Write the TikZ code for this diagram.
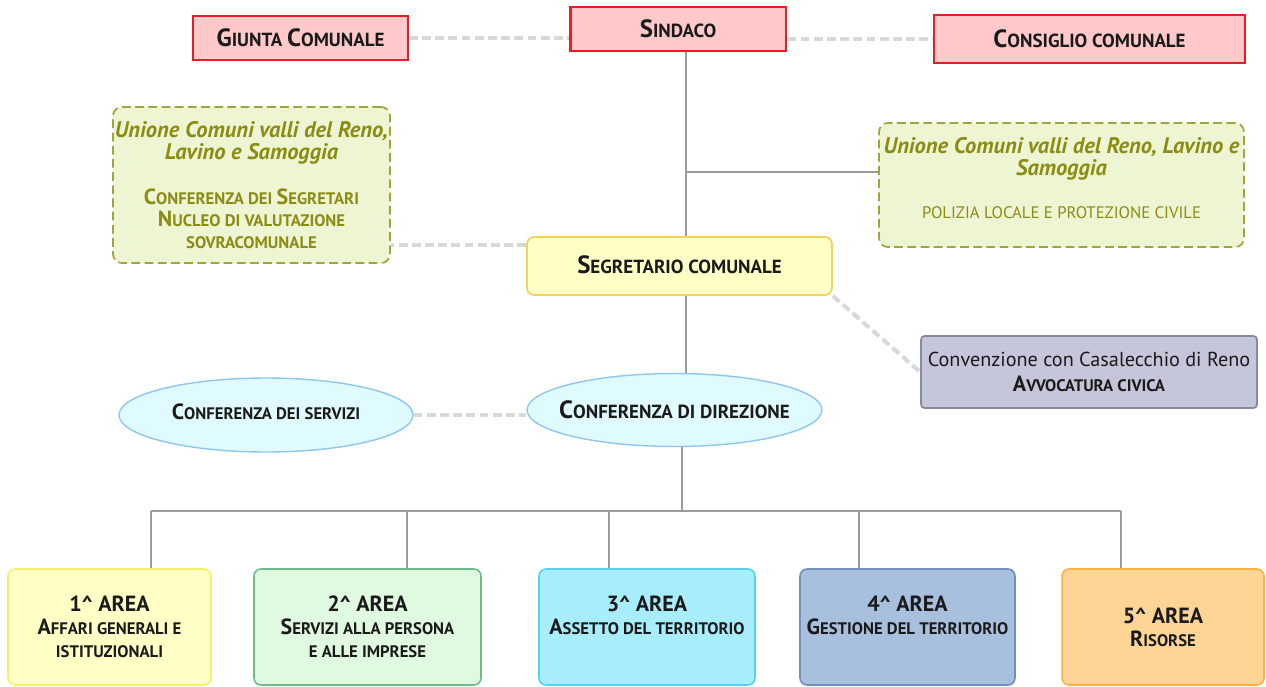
\documentclass[tikz,border=0pt]{standalone}
\usepackage{fontspec}
\setmainfont{PT Sans}
\usepackage{tikz}
\usetikzlibrary{
	calc,
	positioning,
	shapes.geometric,
}
\definecolor{testo}{HTML}{1A1A1A}
\definecolor{rosso}{HTML}{ED1C24}
\definecolor{rosa}{HTML}{FFC9C9}
\definecolor{oliva}{HTML}{8C8C14}
\definecolor{olivabordo}{HTML}{A3A33C}
\definecolor{verdino}{HTML}{EEF5D3}
\definecolor{giallino}{HTML}{FFFFC6}
\definecolor{giallob}{HTML}{F5F06A}
\definecolor{oro}{HTML}{F5D35A}
\definecolor{celestino}{HTML}{E0FBFF}
\definecolor{celestebordo}{HTML}{8EC6F2}
\definecolor{lilla}{HTML}{C6C6DA}
\definecolor{lillabordo}{HTML}{8787A8}
\definecolor{verde}{HTML}{E0FAE0}
\definecolor{verdeb}{HTML}{6DBB8A}
\definecolor{ciano}{HTML}{A8EDFC}
\definecolor{cianob}{HTML}{58D0F0}
\definecolor{blu}{HTML}{A8BFDD}
\definecolor{blub}{HTML}{6F8FBF}
\definecolor{arancio}{HTML}{FFD596}
\definecolor{aranciob}{HTML}{FFB040}
\definecolor{grigio}{HTML}{9A9A9A}
\definecolor{grigino}{HTML}{D8D8D8}
\newcommand\Iniz[1]{{\fontsize{12.5}{14}\selectfont #1}}
\newcommand\IniG[1]{{\fontsize{14.2}{16}\selectfont #1}}
\newcommand\Corsivo{\itshape\fontsize{12.8}{14.5}\selectfont}
\tikzset{organo/.style={draw=rosso,fill=rosa,line width=1.1pt,minimum height=0.88cm,text=testo,font=\fontsize{10.8}{13}\selectfont\bfseries,}}
\tikzset{unione/.style={draw=olivabordo,fill=verdino,dashed,dash pattern=on 5pt off 2.5pt,line width=1pt,rounded corners=5pt,text=oliva,align=center,inner sep=0pt,font=\fontsize{9.5}{12.5}\selectfont\bfseries,}}
\tikzset{ellisse/.style={ellipse,draw=celestebordo,fill=celestino,line width=0.8pt,inner sep=0pt,text=testo,font=\fontsize{9.5}{12}\selectfont\bfseries,}}
\tikzset{area/.style={rounded corners=4pt,line width=0.9pt,minimum height=2.32cm,text=testo,align=center,font=\fontsize{9.5}{13}\selectfont\bfseries,}}
\tikzset{link/.style={draw=grigio,line width=1.5pt,}}
\tikzset{tratt/.style={draw=grigino,line width=2.3pt,dash pattern=on 5pt off 2.5pt,}}

\begin{document}
\begin{tikzpicture}[x=0.02cm,y=-0.02cm]
\useasboundingbox (0,0) rectangle (1266,686);

% vertici
\node[organo,line width=1.7pt,minimum width=4.32cm](sindaco) at(678,29) {\IniG{S}INDACO};
\node[organo,minimum width=4.3cm](giunta) at(300.5,38) {\IniG{G}IUNTA \IniG{C}OMUNALE};
\node[organo,minimum width=6.22cm,minimum height=0.96cm](consiglio) at(1089.5,39) {\IniG{C}ONSIGLIO COMUNALE};

% unione
\node[unione,minimum width=5.54cm,minimum height=3.12cm](unioneL) at(251.5,185) {\Corsivo Unione Comuni valli del Reno,\\ \Corsivo Lavino e Samoggia\\[13pt] \Iniz{C}ONFERENZA DEI \Iniz{S}EGRETARI\\ \Iniz{N}UCLEO DI VALUTAZIONE\\ SOVRACOMUNALE};
\node[unione,minimum width=7.3cm,minimum height=2.48cm](unioneR) at(1061.5,185) {\Corsivo Unione Comuni valli del Reno, Lavino e\\ \Corsivo Samoggia\\[12pt] \mdseries POLIZIA LOCALE E PROTEZIONE CIVILE\\[-4pt] \mbox{}};

% segreteria
\node[draw=oro,fill=giallino,line width=1pt,rounded corners=4pt,minimum width=6.1cm,minimum height=1.16cm,text=testo,font=\fontsize{10.8}{13}\selectfont\bfseries](segretario) at(679.5,266) {\raisebox{2pt}{\IniG{S}EGRETARIO COMUNALE}};
\node[draw=lillabordo,fill=lilla,line width=1pt,rounded corners=2pt,minimum width=6.72cm,minimum height=1.44cm,text=testo,align=center,font=\fontsize{11.5}{14}\selectfont](convenzione) at(1089,372) {Convenzione con Casalecchio di Reno\\ {\fontsize{9.5}{14}\selectfont\bfseries\Iniz{A}VVOCATURA CIVICA}};

% conferenze
\node[ellisse,inner xsep=-0.24cm,font=\fontsize{10.8}{13}\selectfont\bfseries,minimum width=5.9cm,minimum height=1.46cm](direzione) at(674.5,410) {\IniG{C}ONFERENZA DI DIREZIONE};
\node[ellisse,minimum width=5.88cm,minimum height=1.48cm](servizi) at(266,415) {\raisebox{4pt}{\Iniz{C}ONFERENZA DEI SERVIZI}};

% aree
\node[area,draw=giallob,fill=giallino,minimum width=4.06cm](area1) at(109.5,627) {\Iniz{1\textasciicircum{} AREA}\\ \Iniz{A}FFARI GENERALI E\\ ISTITUZIONALI};
\node[area,draw=verdeb,fill=verde,minimum width=4.54cm](area2) at(367.5,627) {\Iniz{2\textasciicircum{} AREA}\\ \Iniz{S}ERVIZI ALLA PERSONA\\ E ALLE IMPRESE};
\node[area,draw=cianob,fill=ciano,minimum width=4.32cm](area3) at(647,627) {\Iniz{3\textasciicircum{} AREA}\\ \Iniz{A}SSETTO DEL TERRITORIO\\ \mbox{}};
\node[area,draw=blub,fill=blu,minimum width=4.3cm](area4) at(907.5,627) {\Iniz{4\textasciicircum{} AREA}\\ \Iniz{G}ESTIONE DEL TERRITORIO\\ \mbox{}};
\node[area,draw=aranciob,fill=arancio,minimum width=4.04cm](area5) at(1163,627) {\Iniz{5\textasciicircum{} AREA}\\ \Iniz{R}ISORSE};

% collegamenti
\draw[tratt] (giunta.east) -- (giunta.east -| sindaco.west);
\draw[tratt] (sindaco.east |- consiglio) -- (consiglio.west);
\draw[link] ([xshift=0.16cm]sindaco.south) -- ([xshift=0.16cm]sindaco.south |- segretario.north);
\draw[link] ($(unioneR.west)+(0,-13)$) -- ($(unioneR.west -| sindaco.south)+(8,-13)$);
\draw[tratt] ([yshift=0.42cm]segretario.west) -- ([yshift=0.42cm]segretario.west -| unioneL.east);
\draw[tratt] (segretario.south east) -- (convenzione.west);
\draw[link] ([xshift=0.13cm]segretario.south) -- ([xshift=0.13cm]segretario.south |- direzione.north);
\draw[tratt] (servizi.east) -- (servizi.east -| direzione.west);

\coordinate(bus) at(0,511);
\draw[link] ([xshift=0.15cm]direzione.south) -- ([xshift=0.15cm]direzione.south |- bus);
\foreach \i/\x in {1/151,2/407,3/609,4/859,5/1121}{
	\coordinate(t\i) at(\x,511);
	\draw[link] (t\i) -- (t\i |- area\i.north);
}
\draw[link] (t1) -- (t5);

\end{tikzpicture}
\end{document}
